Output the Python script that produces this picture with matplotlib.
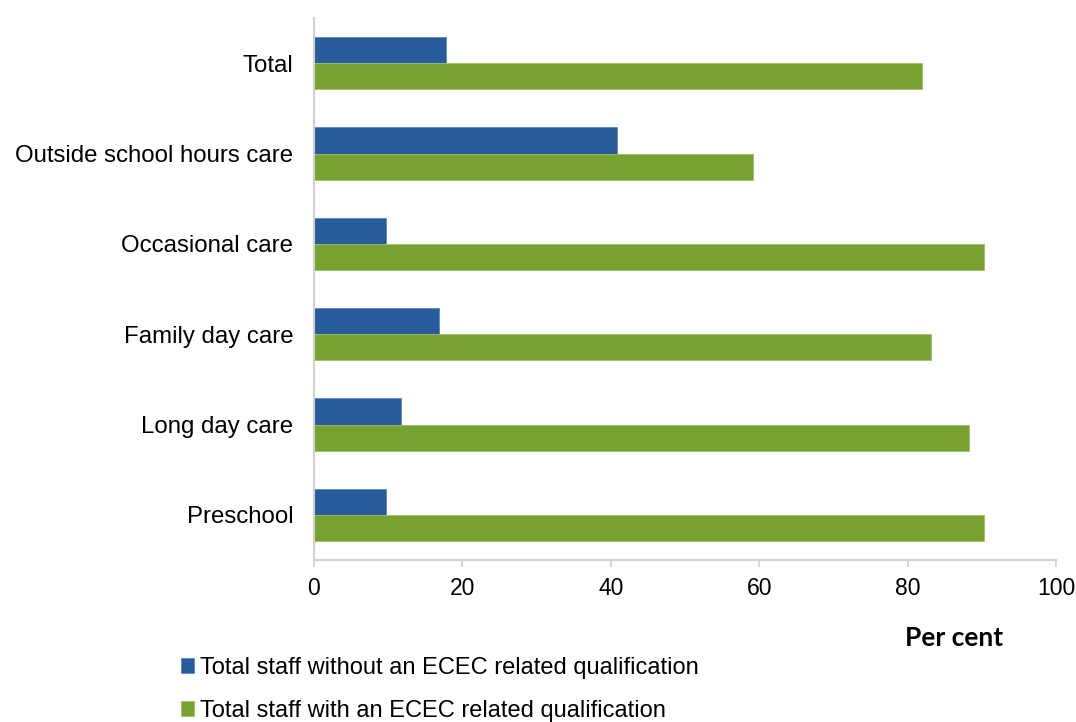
import matplotlib
matplotlib.use("Agg")
import matplotlib.pyplot as plt
import numpy as np

categories = ["Preschool", "Long day care", "Family day care", "Occasional care",
              "Outside school hours care", "Total"]
without_qual = [9.7, 11.7, 16.8, 9.7, 40.8, 17.8]
with_qual = [90.3, 88.3, 83.2, 90.3, 59.2, 82.0]
series_labels = ["Total staff without an ECEC related qualification",
                 "Total staff with an ECEC related qualification"]
xticks = [0, 20, 40, 60, 80, 100]

plt.rcParams['font.family'] = ['Liberation Sans', 'DejaVu Sans']

fig = plt.figure(figsize=(10.76, 7.22), dpi=100)
ax = fig.add_axes([314/1076, 1 - 560/722, (1056-314)/1076, (560-18)/722])

y = np.arange(len(categories))
h = 0.29
b1 = ax.barh(y + h/2, without_qual, height=h, color="#285B9B", edgecolor="#5E86BC", linewidth=0.6,
             label=series_labels[0])
b2 = ax.barh(y - h/2, with_qual, height=h, color="#78A22F", edgecolor="#9DBE66", linewidth=0.6,
             label=series_labels[1])

ax.set_xlim(0, 100)
ax.set_ylim(-0.5, len(categories) - 0.5)
ax.set_xticks(xticks)
ax.set_xticklabels([str(t) for t in xticks])
ax.set_yticks(y)
ax.set_yticklabels(categories)
ax.tick_params(axis='y', length=0, pad=15, labelsize=17.3)
ax.tick_params(axis='x', length=5, width=1.2, color="#D0D0D0", pad=7, labelsize=16.5, direction='out')
for s in ["top", "right"]:
    ax.spines[s].set_visible(False)
for s in ["left", "bottom"]:
    ax.spines[s].set_color("#D0D0D0")
    ax.spines[s].set_linewidth(1.5)

fig.text(954/1076, 1 - 638/722, "Per cent", ha="center", va="center", fontsize=19,
         fontweight="bold", family=["Lato", "DejaVu Sans"])

fig.legend(handles=[b1, b2], labels=series_labels, loc="upper left",
           bbox_to_anchor=(181/1076, 1 - 657/722), frameon=False, fontsize=17,
           handlelength=0.55, handleheight=0.6, handletextpad=0.25, labelspacing=0.9,
           borderaxespad=0, borderpad=0)

fig.savefig("out.png", dpi=100)
